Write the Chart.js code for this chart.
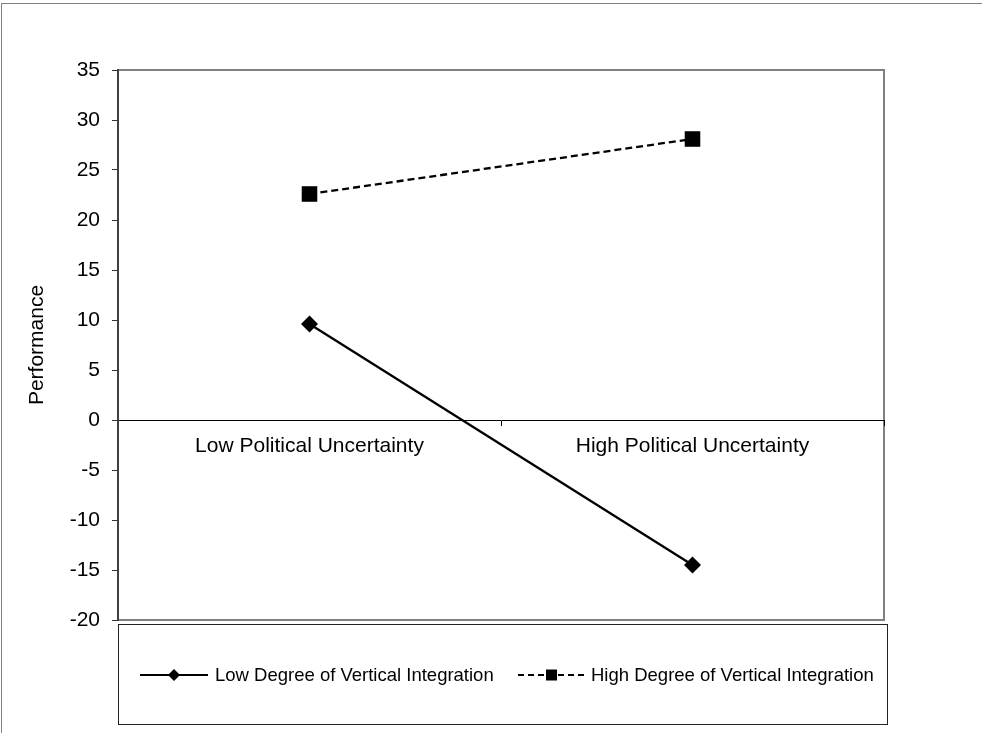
<!DOCTYPE html>
<html>
<head>
<meta charset="utf-8">
<script src="https://cdn.jsdelivr.net/npm/chart.js@4/dist/chart.umd.min.js"></script>
<style>
  body { margin: 0; background: #fff; }
  canvas { display: block; }
</style>
</head>
<body>
<canvas id="myChart" width="982" height="733"></canvas>
<script>
var categories = ['Low Political Uncertainty', 'High Political Uncertainty'];
var seriesNames = ['Low Degree of Vertical Integration', 'High Degree of Vertical Integration'];
var lowVI = [9.6, -14.5];
var highVI = [22.6, 28.1];
var yMin = -20, yMax = 35, yStep = 5;

var FONT = "'Liberation Sans', Arial, sans-serif";

// outer frame + grey plot box, drawn before the scales
var frames = {
    id: 'frames',
    beforeDraw: function(chart) {
        var c = chart.ctx, a = chart.chartArea;
        c.save();
        c.strokeStyle = '#808080';
        c.lineWidth = 1;
        c.strokeRect(1.5, 3.5, 1200, 900);
        c.lineWidth = 2;
        c.strokeRect(a.left, a.top, a.right - a.left, a.bottom - a.top);
        c.restore();
    }
};

// legend box with line + marker samples
var legendBox = {
    id: 'legendBox',
    afterDraw: function(chart) {
        var c = chart.ctx;
        c.save();
        c.strokeStyle = '#222';
        c.lineWidth = 1;
        c.strokeRect(118.5, 624.5, 769, 100);
        var y = 675;
        var items = [
            { x0: 140, x1: 208, dash: [], text: seriesNames[0], marker: 'diamond', tx: 215 },
            { x0: 518, x1: 585, dash: [6, 4], text: seriesNames[1], marker: 'square', tx: 591 }
        ];
        items.forEach(function(it) {
            c.strokeStyle = '#000';
            c.lineWidth = 2.2;
            c.setLineDash(it.dash);
            c.beginPath();
            c.moveTo(it.x0, y);
            c.lineTo(it.x1, y);
            c.stroke();
            c.setLineDash([]);
            var mx = (it.x0 + it.x1) / 2;
            c.fillStyle = '#000';
            c.beginPath();
            if (it.marker === 'diamond') {
                c.moveTo(mx, y - 6); c.lineTo(mx + 6, y); c.lineTo(mx, y + 6); c.lineTo(mx - 6, y);
            } else {
                c.rect(mx - 5.5, y - 5.5, 11, 11);
            }
            c.closePath();
            c.fill();
            c.font = '18.5px ' + FONT;
            c.textBaseline = 'middle';
            c.textAlign = 'left';
            c.fillText(it.text, it.tx, y + 1);
        });
        c.restore();
    }
};

var ctx = document.getElementById('myChart').getContext('2d');
var myChart = new Chart(ctx, {
    type: 'line',
    data: {
        labels: categories,
        datasets: [{
            label: seriesNames[0],
            data: lowVI,
            borderColor: '#000',
            backgroundColor: '#000',
            borderWidth: 2.3,
            pointStyle: 'rectRot',
            pointRadius: 8.5,
            pointBorderWidth: 0,
            pointHoverRadius: 8.5
        }, {
            label: seriesNames[1],
            data: highVI,
            borderColor: '#000',
            backgroundColor: '#000',
            borderWidth: 2.3,
            borderDash: [7, 4],
            pointStyle: 'rect',
            pointRadius: 11,
            pointBorderWidth: 0,
            pointHoverRadius: 11
        }]
    },
    options: {
        responsive: false,
        animation: false,
        events: [],
        layout: {
            padding: { top: 70, bottom: 113, left: 0, right: 98 }
        },
        plugins: {
            legend: { display: false },
            tooltip: { enabled: false }
        },
        scales: {
            x: {
                position: { y: 0 },
                offset: true,
                grid: {
                    offset: true,
                    drawOnChartArea: false,
                    tickLength: 5,
                    color: '#000'
                },
                border: { color: '#000', width: 1 },
                ticks: {
                    color: '#000',
                    padding: 9,
                    maxRotation: 0,
                    font: { family: FONT, size: 21 }
                }
            },
            y: {
                min: yMin,
                max: yMax,
                afterFit: function(scale) { scale.width = 118; },
                grid: {
                    drawOnChartArea: false,
                    tickLength: 6,
                    color: '#333'
                },
                border: { color: '#404040', width: 2 },
                ticks: {
                    stepSize: yStep,
                    color: '#000',
                    padding: 12,
                    font: { family: FONT, size: 21 }
                },
                title: {
                    display: true,
                    text: 'Performance',
                    color: '#000',
                    padding: { top: 25, bottom: 0 },
                    font: { family: FONT, size: 21 }
                }
            }
        }
    },
    plugins: [frames, legendBox]
});
</script>
</body>
</html>
